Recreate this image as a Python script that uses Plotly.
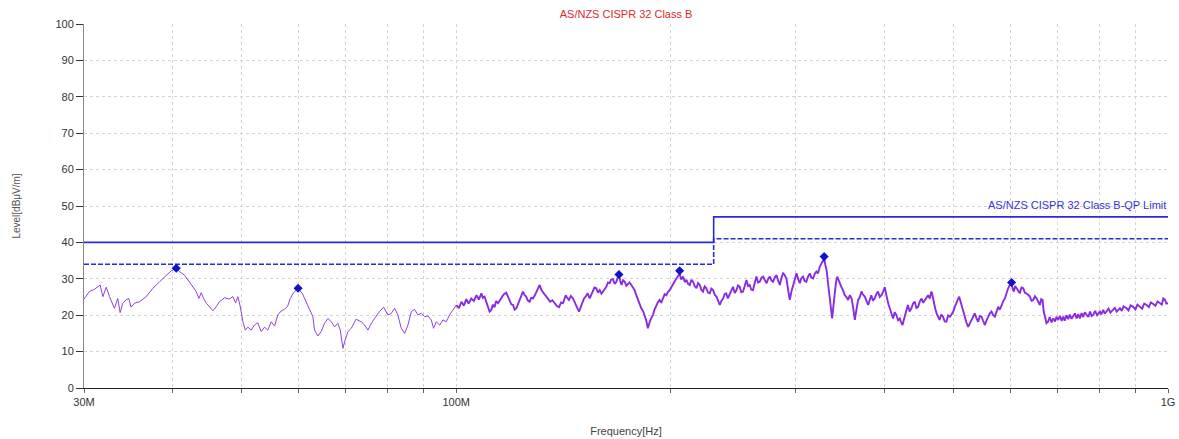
import plotly.graph_objects as go

# Measured spectrum, 30 MHz - ~100 MHz (sparser sweep section)
freq_low_mhz = [
    30.0, 30.53, 31.02, 31.37, 31.61, 31.89, 32.24, 32.58, 33.10, 33.46, 33.72, 34.0,
    34.37, 34.67, 34.94, 35.32, 35.9, 36.69, 37.48, 38.31, 39.13, 39.78, 40.43, 40.86,
    41.52, 42.2, 42.66, 43.13, 43.5, 43.84, 44.17, 44.56, 45.03, 45.51, 46.0, 46.51,
    47.25, 48.0, 48.56, 48.98, 49.35, 49.74, 50.16, 50.55, 50.97, 51.52, 52.07, 52.64,
    53.22, 53.79, 54.36, 54.96, 55.57, 56.16, 56.78, 57.38, 57.98, 58.45, 59.09, 59.96,
    60.78, 61.55, 62.2, 62.9, 63.25, 63.92, 64.61, 65.33, 66.04, 66.77, 67.48, 68.19,
    68.73, 69.32, 69.71, 70.46, 71.23, 72.33, 73.54, 74.36, 75.17, 76.0, 76.8, 78.03,
    79.07, 80.18, 81.06, 81.92, 82.8, 83.73, 84.64, 85.55, 86.49, 87.4, 88.33, 89.33,
    90.29, 91.26, 92.24, 92.94, 93.77, 94.78, 95.8, 96.84, 97.9, 98.96, 100.06,
]
level_low = [
    24.4, 26.5, 27.1, 27.8, 28.3, 25.1, 27.7, 25.1, 21.9, 24.6, 20.7, 23.3,
    24.2, 24.6, 22.2, 23.3, 23.7, 25.1, 27.4, 29.2, 31.0, 32.2, 32.9, 32.0,
    31.0, 29.2, 27.8, 26.5, 24.6, 26.2, 24.6, 23.3, 22.3, 21.2, 22.3, 23.7,
    24.8, 24.4, 25.1, 23.4, 25.1, 22.3, 18.2, 15.9, 16.7, 15.9, 17.3, 17.9,
    15.5, 16.7, 15.9, 18.2, 17.0, 20.1, 21.2, 21.6, 22.5, 24.6, 26.2, 27.4,
    26.0, 23.7, 21.9, 19.6, 15.9, 14.3, 15.5, 17.8, 19.1, 18.2, 16.8, 17.8,
    15.9, 10.9, 12.7, 15.5, 16.4, 18.9, 18.2, 17.3, 15.9, 17.8, 19.1, 21.0,
    22.2, 20.1, 20.5, 21.9, 20.1, 16.4, 15.0, 17.3, 21.0, 21.6, 20.1, 20.5,
    19.6, 19.8, 18.7, 16.4, 18.2, 17.3, 18.7, 18.2, 20.1, 21.4, 22.8,
]

# Measured spectrum, ~100 MHz - 1 GHz (dense sweep section)
freq_high_mhz = [
    100.06, 100.9, 101.7, 102.5, 103.3, 104.1, 105.0, 105.9, 106.8, 107.6, 108.5, 109.0,
    109.6, 110.2, 110.8, 111.4, 112.0, 112.6, 113.2, 113.8, 114.5, 115.1, 115.7, 116.6,
    117.6, 118.2, 118.9, 119.5, 120.2, 120.8, 121.5, 122.1, 122.8, 123.4, 124.1, 124.7,
    125.4, 126.1, 126.8, 127.5, 128.2, 128.9, 129.7, 130.3, 131.0, 131.7, 132.4, 133.1,
    133.9, 134.7, 135.5, 136.5, 137.5, 138.5, 139.5, 140.4, 141.3, 141.9, 142.5, 143.2,
    144.0, 144.9, 145.9, 146.7, 147.5, 148.1, 148.8, 149.6, 150.4, 151.2, 152.0, 153.0,
    154.0, 154.8, 155.6, 156.4, 157.3, 158.2, 159.1, 160.0, 160.8, 161.6, 162.5, 163.4,
    164.3, 165.1, 166.0, 167.0, 167.9, 168.6, 169.3, 170.0, 170.7, 171.6, 172.5, 173.4,
    174.3, 175.2, 176.2, 177.1, 178.1, 179.0, 180.0, 181.0, 182.0, 183.0, 183.9, 184.9,
    185.9, 186.6, 187.4, 188.2, 189.0, 190.0, 191.1, 192.1, 193.1, 194.1, 195.2, 196.3,
    197.4, 198.4, 199.5, 200.6, 201.7, 202.8, 203.9, 205.0, 206.0, 207.1, 208.3, 209.5,
    210.6, 211.7, 212.9, 214.0, 215.1, 216.3, 217.5, 218.7, 219.9, 221.0, 222.2, 223.4,
    224.6, 225.8, 227.1, 228.3, 229.6, 230.8, 232.1, 233.3, 234.6, 235.8, 237.1, 238.3,
    239.5, 240.8, 242.1, 243.4, 244.8, 246.2, 247.6, 248.9, 250.2, 251.5, 252.9, 254.3,
    255.7, 257.0, 258.4, 259.8, 261.2, 262.6, 264.1, 265.5, 267.0, 268.5, 270.0, 271.5,
    273.0, 274.4, 275.9, 277.3, 278.7, 280.3, 281.9, 283.4, 284.9, 286.4, 287.9, 289.4,
    291.0, 292.6, 294.2, 295.8, 297.4, 299.0, 300.7, 302.3, 303.9, 305.5, 307.1, 308.7,
    310.4, 312.1, 313.9, 315.6, 317.3, 319.0, 320.7, 322.4, 324.2, 326.5, 328.8, 330.1,
    331.4, 333.1, 334.9, 336.1, 337.4, 338.8, 340.3, 341.6, 343.0, 345.3, 347.6, 349.5,
    351.5, 353.4, 355.3, 357.3, 359.3, 361.2, 363.1, 365.0, 367.0, 369.0, 371.0, 373.0,
    375.0, 377.0, 379.1, 381.0, 382.9, 385.0, 387.2, 389.3, 391.4, 393.6, 395.8, 398.0,
    400.1, 401.6, 403.1, 404.8, 406.6, 408.7, 410.9, 413.1, 415.3, 417.6, 420.0, 421.8,
    423.7, 425.3, 426.9, 429.0, 431.1, 433.5, 436.0, 438.4, 440.8, 443.2, 445.6, 448.1,
    450.6, 453.0, 455.4, 457.8, 460.2, 462.7, 465.2, 467.1, 469.0, 471.0, 473.1, 475.3,
    477.5, 480.2, 482.9, 485.6, 488.3, 491.0, 493.8, 496.5, 499.2, 502.0, 504.7, 506.8,
    508.9, 510.8, 512.8, 515.4, 518.1, 521.0, 523.9, 526.8, 529.7, 532.4, 535.2, 538.1,
    541.1, 544.1, 547.1, 550.0, 553.0, 556.0, 558.9, 562.0, 565.0, 568.1, 571.2, 574.2,
    577.3, 580.4, 583.5, 586.7, 589.9, 593.1, 596.3, 599.6, 602.9, 605.1, 607.4, 610.0,
    612.7, 615.9, 619.1, 622.5, 626.0, 629.3, 632.7, 636.2, 639.7, 643.1, 646.6, 650.2,
    653.8, 657.2, 660.7, 663.5, 666.4, 669.0, 671.6, 675.0, 678.4, 682.0, 686.0, 689.8,
    694.0, 697.0, 701.1, 705.0, 709.0, 712.5, 716.0, 720.0, 724.2, 728.0, 732.0, 736.0,
    740.0, 744.0, 748.0, 752.0, 756.0, 760.0, 764.0, 768.6, 773.0, 777.0, 781.0, 785.0,
    790.0, 795.0, 802.3, 806.0, 811.0, 815.0, 819.7, 825.0, 830.0, 837.6, 842.0, 847.0,
    856.0, 861.0, 866.0, 874.7, 880.0, 886.0, 893.6, 900.0, 906.0, 913.1, 920.0, 926.0,
    933.4, 940.0, 946.0, 953.6, 960.0, 967.0, 974.4, 980.0, 985.0, 990.3, 995.0, 1000.0,
]
level_high = [
    22.8, 21.9, 23.7, 22.6, 24.4, 23.2, 24.6, 23.9, 25.5, 24.3, 26.0, 24.8,
    25.1, 23.6, 22.8, 21.0, 21.4, 22.9, 22.2, 23.9, 23.3, 24.0, 24.6, 25.7,
    26.2, 25.0, 24.2, 23.0, 22.8, 21.5, 21.9, 23.1, 24.2, 25.3, 26.5, 25.6,
    25.1, 24.0, 23.7, 24.8, 24.6, 25.4, 26.5, 27.2, 28.3, 27.0, 26.5, 25.7,
    25.1, 24.5, 23.7, 24.1, 23.3, 22.5, 22.2, 23.5, 23.3, 24.6, 25.5, 24.8,
    24.2, 25.3, 24.6, 23.6, 22.8, 21.8, 21.0, 22.4, 23.7, 24.6, 25.1, 26.0,
    24.6, 25.7, 26.5, 27.6, 27.4, 26.2, 26.9, 25.9, 26.5, 27.2, 27.8, 29.0,
    28.8, 29.8, 29.9, 28.6, 29.2, 30.3, 31.0, 29.4, 28.3, 29.6, 29.2, 28.1,
    28.6, 29.0, 28.3, 27.5, 26.9, 25.6, 24.2, 23.4, 21.9, 21.2, 20.1, 18.6,
    16.4, 17.9, 18.7, 19.4, 20.1, 21.6, 22.8, 23.6, 24.2, 23.4, 24.6, 25.8,
    25.5, 26.4, 26.9, 27.6, 28.3, 29.3, 30.1, 30.9, 31.4, 29.8, 30.6, 29.1,
    29.7, 28.6, 28.3, 29.7, 29.2, 28.0, 27.4, 28.8, 28.3, 27.0, 26.5, 27.9,
    27.4, 26.2, 26.0, 27.3, 26.9, 25.6, 25.1, 24.0, 22.8, 23.9, 24.6, 25.8,
    26.0, 24.6, 25.5, 26.6, 27.8, 26.1, 26.9, 28.2, 27.8, 26.3, 26.5, 28.0,
    29.7, 28.0, 28.3, 27.0, 26.9, 28.8, 30.6, 29.0, 29.2, 30.3, 30.6, 29.6,
    28.8, 30.0, 30.6, 29.5, 29.2, 30.4, 31.0, 29.4, 28.3, 30.3, 31.5, 31.0,
    30.1, 27.0, 24.2, 26.5, 28.3, 30.2, 31.5, 29.9, 28.8, 30.2, 30.6, 29.4,
    29.2, 30.6, 31.5, 30.3, 30.1, 31.4, 32.0, 31.5, 33.3, 34.5, 35.5, 33.8,
    32.4, 28.5, 25.1, 21.5, 19.1, 22.5, 26.9, 29.0, 30.6, 29.0, 27.8, 26.8,
    25.5, 25.0, 24.2, 25.5, 24.6, 22.0, 18.7, 21.5, 24.2, 25.0, 26.5, 25.6,
    25.1, 24.0, 22.8, 24.2, 25.5, 24.0, 24.6, 25.8, 26.5, 25.0, 25.5, 26.5,
    27.7, 26.0, 24.2, 23.0, 21.9, 20.5, 19.1, 20.8, 20.1, 18.6, 19.1, 18.0,
    17.3, 18.6, 19.6, 21.5, 22.8, 21.0, 21.9, 23.2, 23.7, 22.0, 22.3, 23.8,
    24.6, 23.4, 24.2, 25.0, 25.5, 24.6, 26.5, 25.2, 23.3, 21.8, 20.5, 19.5,
    18.7, 20.2, 19.6, 18.3, 18.2, 19.9, 19.6, 20.2, 21.0, 22.4, 23.3, 24.0,
    25.1, 24.0, 22.8, 21.0, 19.6, 18.0, 16.8, 17.8, 18.7, 19.5, 20.5, 19.2,
    18.2, 19.8, 19.6, 18.4, 17.3, 18.6, 19.6, 20.5, 21.0, 20.0, 19.6, 21.0,
    22.3, 21.5, 22.8, 23.8, 24.6, 26.2, 27.4, 28.3, 28.6, 27.3, 26.5, 28.0,
    27.4, 26.4, 26.0, 27.6, 27.4, 26.2, 26.0, 25.6, 25.1, 24.0, 24.2, 25.2,
    24.6, 23.6, 22.8, 24.4, 24.2, 21.0, 19.1, 17.8, 18.2, 19.5, 18.0, 19.1,
    18.3, 19.6, 18.7, 19.8, 18.4, 19.6, 18.5, 20.0, 18.9, 20.2, 19.0, 19.6,
    20.5, 19.1, 20.3, 19.1, 20.6, 19.5, 20.8, 20.1, 19.5, 21.0, 19.8, 20.1,
    21.2, 20.0, 21.0, 20.2, 21.5, 20.4, 21.0, 21.8, 20.7, 21.4, 22.0, 21.0,
    21.9, 21.2, 22.4, 21.9, 21.3, 22.7, 22.3, 21.6, 22.9, 22.3, 21.8, 23.2,
    22.8, 22.2, 23.5, 23.1, 22.6, 23.8, 23.3, 22.9, 24.6, 24.2, 23.2, 23.3,
]
assert len(freq_low_mhz) == len(level_low), (len(freq_low_mhz), len(level_low))
assert len(freq_high_mhz) == len(level_high), (len(freq_high_mhz), len(level_high))

# Final-measurement peaks
peak_freq_mhz = [40.43, 59.96, 169.3, 206.0, 328.8, 602.9]
peak_level = [32.9, 27.4, 31.2, 32.2, 36.1, 29.0]

# AS/NZS CISPR 32 Class B limit (QP) and the 6 dB margin line
limit_freq_mhz = [30, 230, 230, 1000]
qp_limit = [40, 40, 47, 47]
qp_margin = [34, 34, 41, 41]

tick_freq_mhz = [30, 40, 50, 60, 70, 80, 90, 100, 200, 300, 400, 500, 600, 700, 800, 900, 1000]
tick_text = ["30M", "", "", "", "", "", "", "100M", "", "", "", "", "", "", "", "", "1G"]

MHZ = 1e6
FONT = "Liberation Sans, Arial, sans-serif"
PURPLE = "#8a2be2"
BLUE = "#2a2ae0"

fig = go.Figure()

fig.add_trace(go.Scatter(
    x=[f * MHZ for f in limit_freq_mhz], y=qp_margin, mode="lines",
    line=dict(color=BLUE, width=1.6, dash="5px,2px"), hoverinfo="skip",
))
fig.add_trace(go.Scatter(
    x=[f * MHZ for f in limit_freq_mhz], y=qp_limit, mode="lines",
    line=dict(color=BLUE, width=1.6), hoverinfo="skip",
))
fig.add_trace(go.Scatter(
    x=[f * MHZ for f in freq_low_mhz], y=level_low, mode="lines",
    line=dict(color="#9040e4", width=1.0),
))
fig.add_trace(go.Scatter(
    x=[f * MHZ for f in freq_high_mhz], y=level_high, mode="lines",
    line=dict(color=PURPLE, width=1.9),
))
fig.add_trace(go.Scatter(
    x=[f * MHZ for f in peak_freq_mhz], y=peak_level, mode="markers",
    marker=dict(symbol="diamond", size=7, color="#1010d0"),
))

fig.add_annotation(
    x=9, y=qp_limit[-1], xref="x", yref="y", text="AS/NZS CISPR 32 Class B-QP Limit",
    showarrow=False, xanchor="right", yanchor="bottom", yshift=4,
    font=dict(family=FONT, size=11, color="#3434d8"),
)

fig.update_layout(
    width=1179, height=439,
    margin=dict(l=84, r=11, t=24, b=51, autoexpand=False),
    paper_bgcolor="white", plot_bgcolor="white",
    showlegend=False,
    font=dict(family=FONT, size=11, color="#333"),
    title=dict(
        text="AS/NZS CISPR 32 Class B", x=0.531, xanchor="center", y=0.968, yanchor="middle",
        font=dict(family=FONT, size=11, color="#e02a2a"),
    ),
    xaxis=dict(
        type="log", range=[7.4771213, 9.0], automargin=False,
        tickvals=[f * MHZ for f in tick_freq_mhz], ticktext=tick_text,
        ticks="outside", ticklen=4, tickcolor="#666",
        showline=True, linecolor="#222", linewidth=1.2,
        showgrid=True, gridcolor="#d4d4d4", griddash="dot", gridwidth=1,
        zeroline=False,
        title=dict(text="Frequency[Hz]", font=dict(family=FONT, size=11, color="#444"), standoff=20),
        tickfont=dict(family=FONT, size=11, color="#333"),
    ),
    yaxis=dict(
        range=[0, 100], dtick=10, tick0=0, automargin=False,
        ticks="outside", ticklen=7, tickcolor="#333",
        showline=True, linecolor="#888", linewidth=1,
        showgrid=True, gridcolor="#d4d4d4", griddash="dot", gridwidth=1,
        zeroline=False,
        title=dict(text="Level[dBμV/m]", font=dict(family=FONT, size=10, color="#555"), standoff=32),
        tickfont=dict(family=FONT, size=11, color="#333"),
    ),
)

fig.write_html("out.html")
